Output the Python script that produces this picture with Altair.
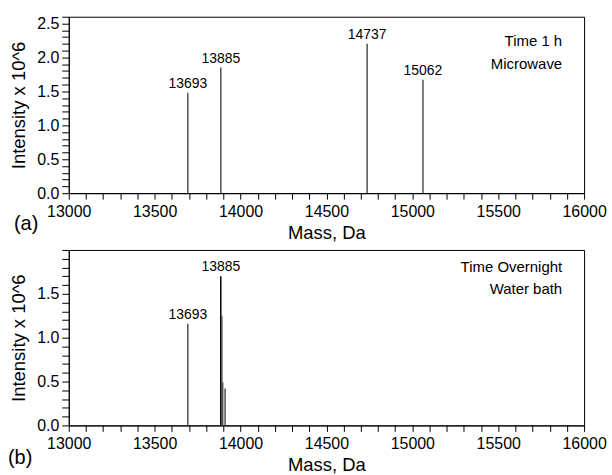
import altair as alt
import pandas as pd

# ---------------- data ----------------
# Panel (a): Time 1 h, Microwave
a_mass = [13693, 13885, 14737, 15062]
a_int = [1.48, 1.85, 2.20, 1.67]
a_labels = ["13693", "13885", "14737", "15062"]

# Panel (b): Time Overnight, Water bath
b_mass = [13693, 13885, 13891, 13896, 13910]
b_int = [1.16, 1.70, 1.25, 0.49, 0.42]
b_color = ["#505050", "#000000", "#505050", "#505050", "#505050"]
b_label_mass = [13693, 13885]
b_label_int = [1.16, 1.70]
b_labels = ["13693", "13885"]

x_ticks = list(range(13000, 16001, 100))
a_y_ticks = [round(i * 0.1, 1) for i in range(27)]
b_y_ticks = [round(i * 0.1, 1) for i in range(21)]

ann_a = ["Time 1 h", "Microwave"]
ann_b = ["Time Overnight", "Water bath"]

FONT = "Liberation Sans"
W = 517


def panel(mass, inten, colors, lmass, lint, labels, ymax, yticks, ymaxlab,
          ann, ann_y, tag, tag_x, tag_y, H):
    df = pd.DataFrame({"mass": mass, "int": inten, "col": colors})
    ldf = pd.DataFrame({"mass": lmass, "int": lint, "label": labels})
    xaxis = alt.Axis(
        values=x_ticks,
        labelExpr="datum.value % 500 == 0 ? format(datum.value, 'd') : ''",
        title="Mass, Da",
        tickSize=6,
        labelPadding=4,
        titlePadding=4,
        labelFlush=False,
        labelOverlap=False,
        grid=False,
    )
    yexpr = ("(round(datum.value * 10) % 5 == 0 && datum.value < " + ymaxlab +
             ") ? format(datum.value, '.1f') : ''")
    yaxis = alt.Axis(
        values=yticks,
        labelExpr=yexpr,
        title="Intensity x 10^6",
        tickSize=7,
        labelPadding=3,
        titlePadding=8,
        labelOverlap=False,
        labelFlush=False,
        grid=False,
    )
    xscale = alt.Scale(domain=[13000, 16000], nice=False, zero=False)
    yscale = alt.Scale(domain=[0, ymax], nice=False, zero=True)
    rules = alt.Chart(df).mark_rule(strokeWidth=1.5).encode(
        x=alt.X("mass:Q", scale=xscale, axis=xaxis),
        y=alt.Y("int:Q", scale=yscale, axis=yaxis),
        y2=alt.datum(0),
        color=alt.Color("col:N", scale=None),
    )
    texts = alt.Chart(ldf).mark_text(
        fontSize=14, font=FONT, baseline="alphabetic", dy=-5, color="black"
    ).encode(
        x=alt.X("mass:Q", scale=xscale, axis=xaxis),
        y=alt.Y("int:Q", scale=yscale, axis=yaxis),
        text="label:N",
    )
    layers = [rules, texts]
    for t, yy in zip(ann, ann_y):
        layers.append(
            alt.Chart(pd.DataFrame({"t": [t]})).mark_text(
                fontSize=15, font=FONT, align="right", baseline="middle", color="black"
            ).encode(x=alt.value(W - 22), y=alt.value(yy), text="t:N")
        )
    layers.append(
        alt.Chart(pd.DataFrame({"t": [tag]})).mark_text(
            fontSize=20, font=FONT, align="left", baseline="middle", color="black"
        ).encode(x=alt.value(tag_x), y=alt.value(tag_y), text="t:N")
    )
    return alt.layer(*layers).properties(width=W, height=H)


top = panel(a_mass, a_int, ["#505050"] * 4, a_mass, a_int, a_labels,
            2.6, a_y_ticks, "2.55", ann_a, [24, 47], "(a)", -55, 208, 177)
bottom = panel(b_mass, b_int, b_color, b_label_mass, b_label_int, b_labels,
               2.0, b_y_ticks, "1.95", ann_b, [17, 39], "(b)", -61, 209, 176)

chart = alt.vconcat(top, bottom, spacing=-1).configure_view(
    stroke="black", strokeWidth=1
).configure_axis(
    domainColor="black", tickColor="black", labelColor="black", titleColor="black",
    labelFont=FONT, titleFont=FONT, labelFontSize=16, titleFontSize=18.5,
    titleFontWeight="normal", domainWidth=1, tickWidth=1,
).configure_text(font=FONT).properties(
    padding={"left": 7, "top": 7, "right": 5, "bottom": 5}
)

chart.save("out.html", embed_options={"renderer": "svg", "actions": False})
